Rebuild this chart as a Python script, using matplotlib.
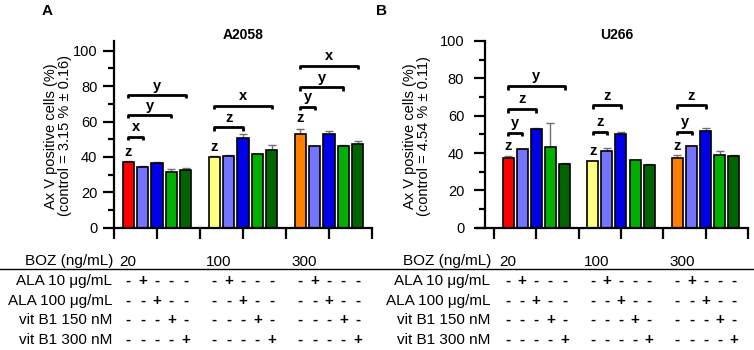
import matplotlib
matplotlib.use("Agg")
import matplotlib.pyplot as plt
from matplotlib.transforms import blended_transform_factory
from matplotlib.ticker import MultipleLocator

plt.rcParams['font.family'] = ['Liberation Sans', 'DejaVu Sans']

# ---------------- data ----------------
groups = ["20", "100", "300"]
colors_first = ["#ff0000", "#ffff80", "#ff8000"]
colors_rest = ["#7474ff", "#0000e6", "#00b000", "#006400"]

A_means = [37.3, 34.3, 36.7, 31.3, 32.4,
           40.1, 40.5, 50.7, 41.5, 43.9,
           52.9, 46.0, 53.1, 46.2, 47.1]
A_err = [0.6, 0.3, 0.4, 1.7, 1.5,
         0.3, 0.3, 2.1, 0.3, 2.6,
         3.0, 0.3, 1.7, 0.7, 1.7]
B_means = [37.5, 42.0, 52.7, 43.0, 34.3,
           35.6, 41.3, 50.3, 36.1, 33.8,
           37.2, 43.6, 51.7, 39.2, 38.3]
B_err = [1.1, 0.4, 0.6, 13.0, 0.2,
         0.2, 1.5, 1.2, 0.2, 0.2,
         2.0, 0.3, 1.8, 2.1, 0.7]

# "z" above first bar of each group
A_z = [42.6, 45.7, 61.8]
B_z = [43.8, 41.3, 44.0]
# brackets: (group, from bar, to bar, y, label)
A_brackets = [(0, 0, 1, 51.4, "x"), (0, 0, 3, 63.7, "y"), (0, 0, 4, 75.0, "y"),
              (1, 0, 2, 56.7, "z"), (1, 0, 4, 68.9, "x"),
              (2, 0, 1, 68.4, "y"), (2, 0, 3, 79.3, "y"), (2, 0, 4, 91.5, "x")]
B_brackets = [(0, 0, 1, 50.9, "y"), (0, 0, 2, 63.4, "z"), (0, 0, 4, 75.8, "y"),
              (1, 0, 1, 51.2, "z"), (1, 0, 2, 65.5, "z"),
              (2, 0, 1, 51.5, "y"), (2, 0, 2, 65.5, "z")]

row_labels = ["ALA 10 μg/mL", "ALA 100 μg/mL", "vit B1 150 nM", "vit B1 300 nM"]
signs = [["-", "+", "-", "-", "-"],
         ["-", "-", "+", "-", "-"],
         ["-", "-", "-", "+", "-"],
         ["-", "-", "-", "-", "+"]]

W, H = 754, 350
fig = plt.figure(figsize=(W / 100, H / 100), dpi=100)


def fx(px):
    return px / W


def fy(py):
    return 1 - py / H


def panel(left_px, right_px, xlim, spine_x, ylim_top, means, errs, zs, brackets,
          title, title_x, letter, letter_x, ylab, ylab_x, label_right, tickpad):
    ax = fig.add_axes([fx(left_px), fy(227.7), fx(right_px - left_px), (227.7 - 41) / H])
    xs = [6 * g + i for g in range(3) for i in range(5)]
    cols = []
    for g in range(3):
        cols += [colors_first[g]] + colors_rest
    ax.bar(xs, means, width=0.78, color=cols, edgecolor="black", linewidth=1.2, zorder=2)
    ax.errorbar(xs, means, yerr=[[0] * len(errs), errs], fmt="none", ecolor="#707070",
                elinewidth=1.0, capsize=3, capthick=1.0, zorder=1)
    ax.set_xlim(*xlim)
    ax.set_ylim(0, ylim_top)
    ax.spines['top'].set_visible(False)
    ax.spines['right'].set_visible(False)
    ax.spines['left'].set_position(('data', spine_x))
    ax.spines['left'].set_bounds(0, ylim_top)
    for s in ['left', 'bottom']:
        ax.spines[s].set_linewidth(1.6)
    ax.set_yticks([0, 20, 40, 60, 80, 100])
    ax.yaxis.set_minor_locator(MultipleLocator(10))
    ax.tick_params(axis='y', which='major', length=8, width=1.6, labelsize=10.5, pad=tickpad)
    ax.tick_params(axis='y', which='minor', length=4.5, width=1.6)
    ax.set_xticks([-1, 2, 5, 8, 11, 14, 17])
    ax.set_xticklabels([])
    ax.tick_params(axis='x', which='major', length=8, width=1.6)
    ax.patch.set_alpha(0)

    # significance annotations
    for g in range(3):
        ax.text(6 * g, zs[g], "z", ha="center", va="center", fontsize=10.5, fontweight="bold")
    for g, a, b, y, lab in brackets:
        x0, x1 = 6 * g + a, 6 * g + b
        d = ylim_top * 0.018
        ax.plot([x0, x0, x1, x1], [y - d, y, y, y - d], color="black", lw=2.0,
                solid_capstyle="butt", clip_on=False)
        ax.text((x0 + x1) / 2, y + 5.3, lab, ha="center", va="center", fontsize=10.5,
                fontweight="bold")

    # titles
    fig.text(fx(title_x), fy(35), title, ha="center", va="center", fontsize=10, fontweight="bold")
    fig.text(fx(letter_x), fy(11), letter, ha="center", va="center", fontsize=11, fontweight="bold")
    fig.text(fx(ylab_x), fy(136), ylab, ha="center", va="center", rotation=90, fontsize=10.5,
             multialignment="center", linespacing=1.05)

    # table below
    tr = blended_transform_factory(ax.transData, fig.transFigure)
    fig.text(fx(label_right), fy(261.5), "BOZ (ng/mL)", ha="right", va="center", fontsize=11)
    for g in range(3):
        ax.text(6 * g - 0.6, fy(261.5), groups[g], transform=tr, ha="left", va="center",
                fontsize=11)
    row_y = [281, 300.5, 320, 340]
    for r in range(4):
        fig.text(fx(label_right - 1), fy(row_y[r]), row_labels[r], ha="right", va="center",
                 fontsize=11)
        for g in range(3):
            for i in range(5):
                ax.text(6 * g + i, fy(row_y[r]), signs[r][i], transform=tr, ha="center",
                        va="center", fontsize=11, fontweight="bold")
    return ax


panel(114, 372, (-1, 17), -1, 105.5, A_means, A_err, A_z, A_brackets,
      "A2058", 243, "A", 47, "Ax V positive cells (%)\n(control = 3.15 % ± 0.16)", 58, 113, 4)
panel(477, 748, (-2.2, 17), -1.63, 100, B_means, B_err, B_z, B_brackets,
      "U266", 617, "B", 382, "Ax V positive cells (%)\n(control = 4.54 % ± 0.11)", 417, 491, 7)

# horizontal line under the BOZ row
fig.add_artist(plt.Line2D([0, 1], [fy(269), fy(269)], color="black", lw=1.0,
                          transform=fig.transFigure))

fig.savefig("out.png", dpi=100)
